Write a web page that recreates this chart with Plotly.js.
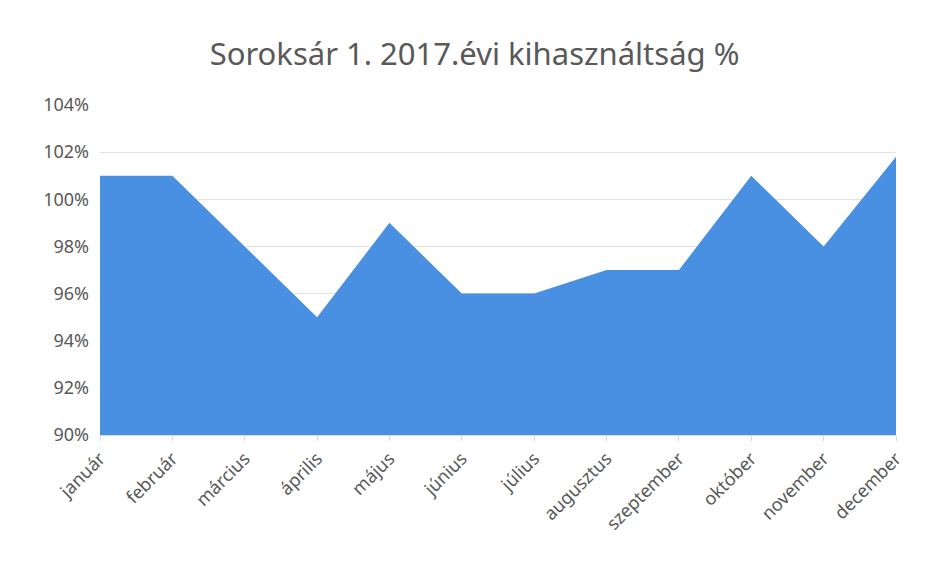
<!DOCTYPE html>
<html>
<head>
<meta charset="utf-8">
<script src="https://cdn.plot.ly/plotly-3.0.1.min.js"></script>
<style>html,body{margin:0;padding:0;background:#fff;}#chart{width:936px;height:566px;}</style>
</head>
<body>
<div id="chart"></div>
<script>
const months = ["január","február","március","április","május","június","július","augusztus","szeptember","október","november","december"];
const utilization = [101, 101, 98, 95, 99, 96, 96, 97, 97, 101, 98, 101.8];
const yTicks = [90, 92, 94, 96, 98, 100, 102, 104];
const yTickLabels = ["90%","92%","94%","96%","98%","100%","102%","104%"];
const chartTitle = "Soroksár 1. 2017.évi kihasználtság %";

const trace = {
  x: months,
  y: utilization,
  type: "scatter",
  mode: "lines",
  fill: "tozeroy",
  fillcolor: "#4A90E2",
  line: {width: 0, color: "#4A90E2"},
  hoverinfo: "x+y"
};

const layout = {
  width: 936, height: 566,
  margin: {l: 100, r: 40, t: 105, b: 131},
  paper_bgcolor: "#fff", plot_bgcolor: "#fff",
  font: {family: "Noto Sans, sans-serif", color: "#595959"},
  title: {text: chartTitle, x: 0.507, xanchor: "center", y: 0.905, yanchor: "middle",
          font: {size: 31, color: "#595959", family: "Noto Sans, sans-serif"}},
  showlegend: false,
  xaxis: {
    type: "category", range: [0, 11],
    tickangle: -45, tickfont: {size: 18, color: "#595959"},
    showgrid: false, zeroline: false,
    showline: true, linecolor: "#d9d9d9",
    ticks: "outside", ticklen: 5, tickcolor: "#d9d9d9",
    fixedrange: true
  },
  yaxis: {
    range: [90, 104], tickvals: yTicks, ticktext: yTickLabels,
    tickfont: {size: 18, color: "#595959"},
    showgrid: true, gridcolor: "#e3e3e3", gridwidth: 1,
    zeroline: false, showline: false, ticks: "", ticklabelstandoff: 10,
    fixedrange: true
  }
};

Plotly.newPlot("chart", [trace], layout, {displayModeBar: false, staticPlot: true});
</script>
</body>
</html>
